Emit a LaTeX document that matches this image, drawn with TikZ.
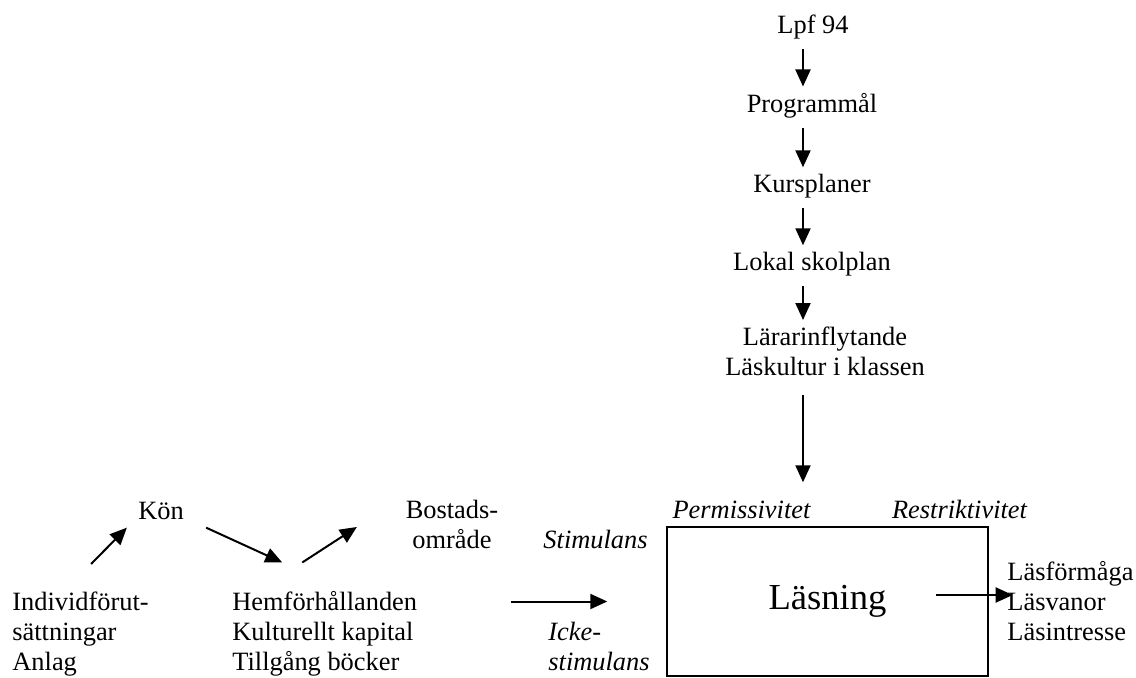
\documentclass[tikz,border=0pt]{standalone}
\usepackage{fontspec}
\setmainfont{Liberation Serif}
\usepackage{tikz}
\usetikzlibrary{positioning, arrows.meta}

\begin{document}
\begin{tikzpicture}[x=0.5pt, y=0.5pt,
  every node/.style={inner sep=0pt, font=\fontsize{13.2pt}{15pt}\selectfont},
  kursiv/.style={font=\fontsize{13.2pt}{15pt}\selectfont\itshape},
  pil/.style={-{Triangle[length=8.5pt, width=7.5pt]}, line width=1pt},
  kol/.style={pil, shorten <=5pt, shorten >=3pt}]
\useasboundingbox (0,0) rectangle (1136,677);

\node[anchor=base] (lpf) at (813,644) {Lpf 94};
\node[anchor=base] (prog) at (812,565) {Programmål};
\node[anchor=base] (kurs) at (812,485) {Kursplaner};
\node[anchor=base] (lokal) at (812,407) {Lokal skolplan};
\node[anchor=base, align=center] (larar) at (825,302) {Lärarinflytande\\Läskultur i klassen};
\coordinate (axel) at (803,0);

\draw[kol] (lpf.south -| axel) -- (prog.north -| axel);
\draw[kol] (prog.south -| axel) -- (kurs.north -| axel);
\draw[kol] (kurs.south -| axel) -- (lokal.north -| axel);
\draw[kol] (lokal.south -| axel) -- (larar.north -| axel);

\node[draw, line width=0.7pt, minimum width=160.5pt, minimum height=74.5pt,
  font=\fontsize{18.3pt}{22pt}\selectfont] (box) at (827.5,75.5) {Läsning};
\node[anchor=base, kursiv] (permis) at (741.5,159) {Permissivitet};
\node[anchor=base, kursiv] (restr) at (959.5,159) {Restriktivitet};
\node[anchor=base east, kursiv] (stim) at (648,129) {Stimulans};
\node[anchor=base west, kursiv, align=left] (icke) at (548,7) {Icke-\\stimulans};
\node[anchor=base west, align=left] (ut) at (1007,37) {Läsförmåga\\Läsvanor\\Läsintresse};

\draw[pil, shorten <=9.5pt, shorten >=22pt] (larar.south -| axel) -- (box.north -| axel);
\draw[pil] ([xshift=-77.5pt]box.west) -- ([xshift=-29.5pt]box.west);
\draw[pil] ([shift={(-53,6.5)}]box.east) -- ++(77,0);

\node[anchor=base west, align=left] (ind) at (12,7) {Individförut-\\sättningar\\Anlag};
\node[anchor=base] (kon) at (161,158) {Kön};
\node[anchor=base west, align=left] (hem) at (232,7) {Hemförhållanden\\Kulturellt kapital\\Tillgång böcker};
\node[anchor=base, align=center] (bost) at (452,129) {Bostads-\\område};

\draw[pil] ([shift={(10.5,27)}]ind.north) -- ([shift={(-11,-8)}]kon.south west);
\draw[pil] ([shift={(22,-8)}]kon.south east) -- ([shift={(-42.5,28)}]hem.north);
\draw[pil] ([shift={(-22.5,28)}]hem.north) -- ([shift={(-48.5,-3)}]bost.west);
\end{tikzpicture}
\end{document}
